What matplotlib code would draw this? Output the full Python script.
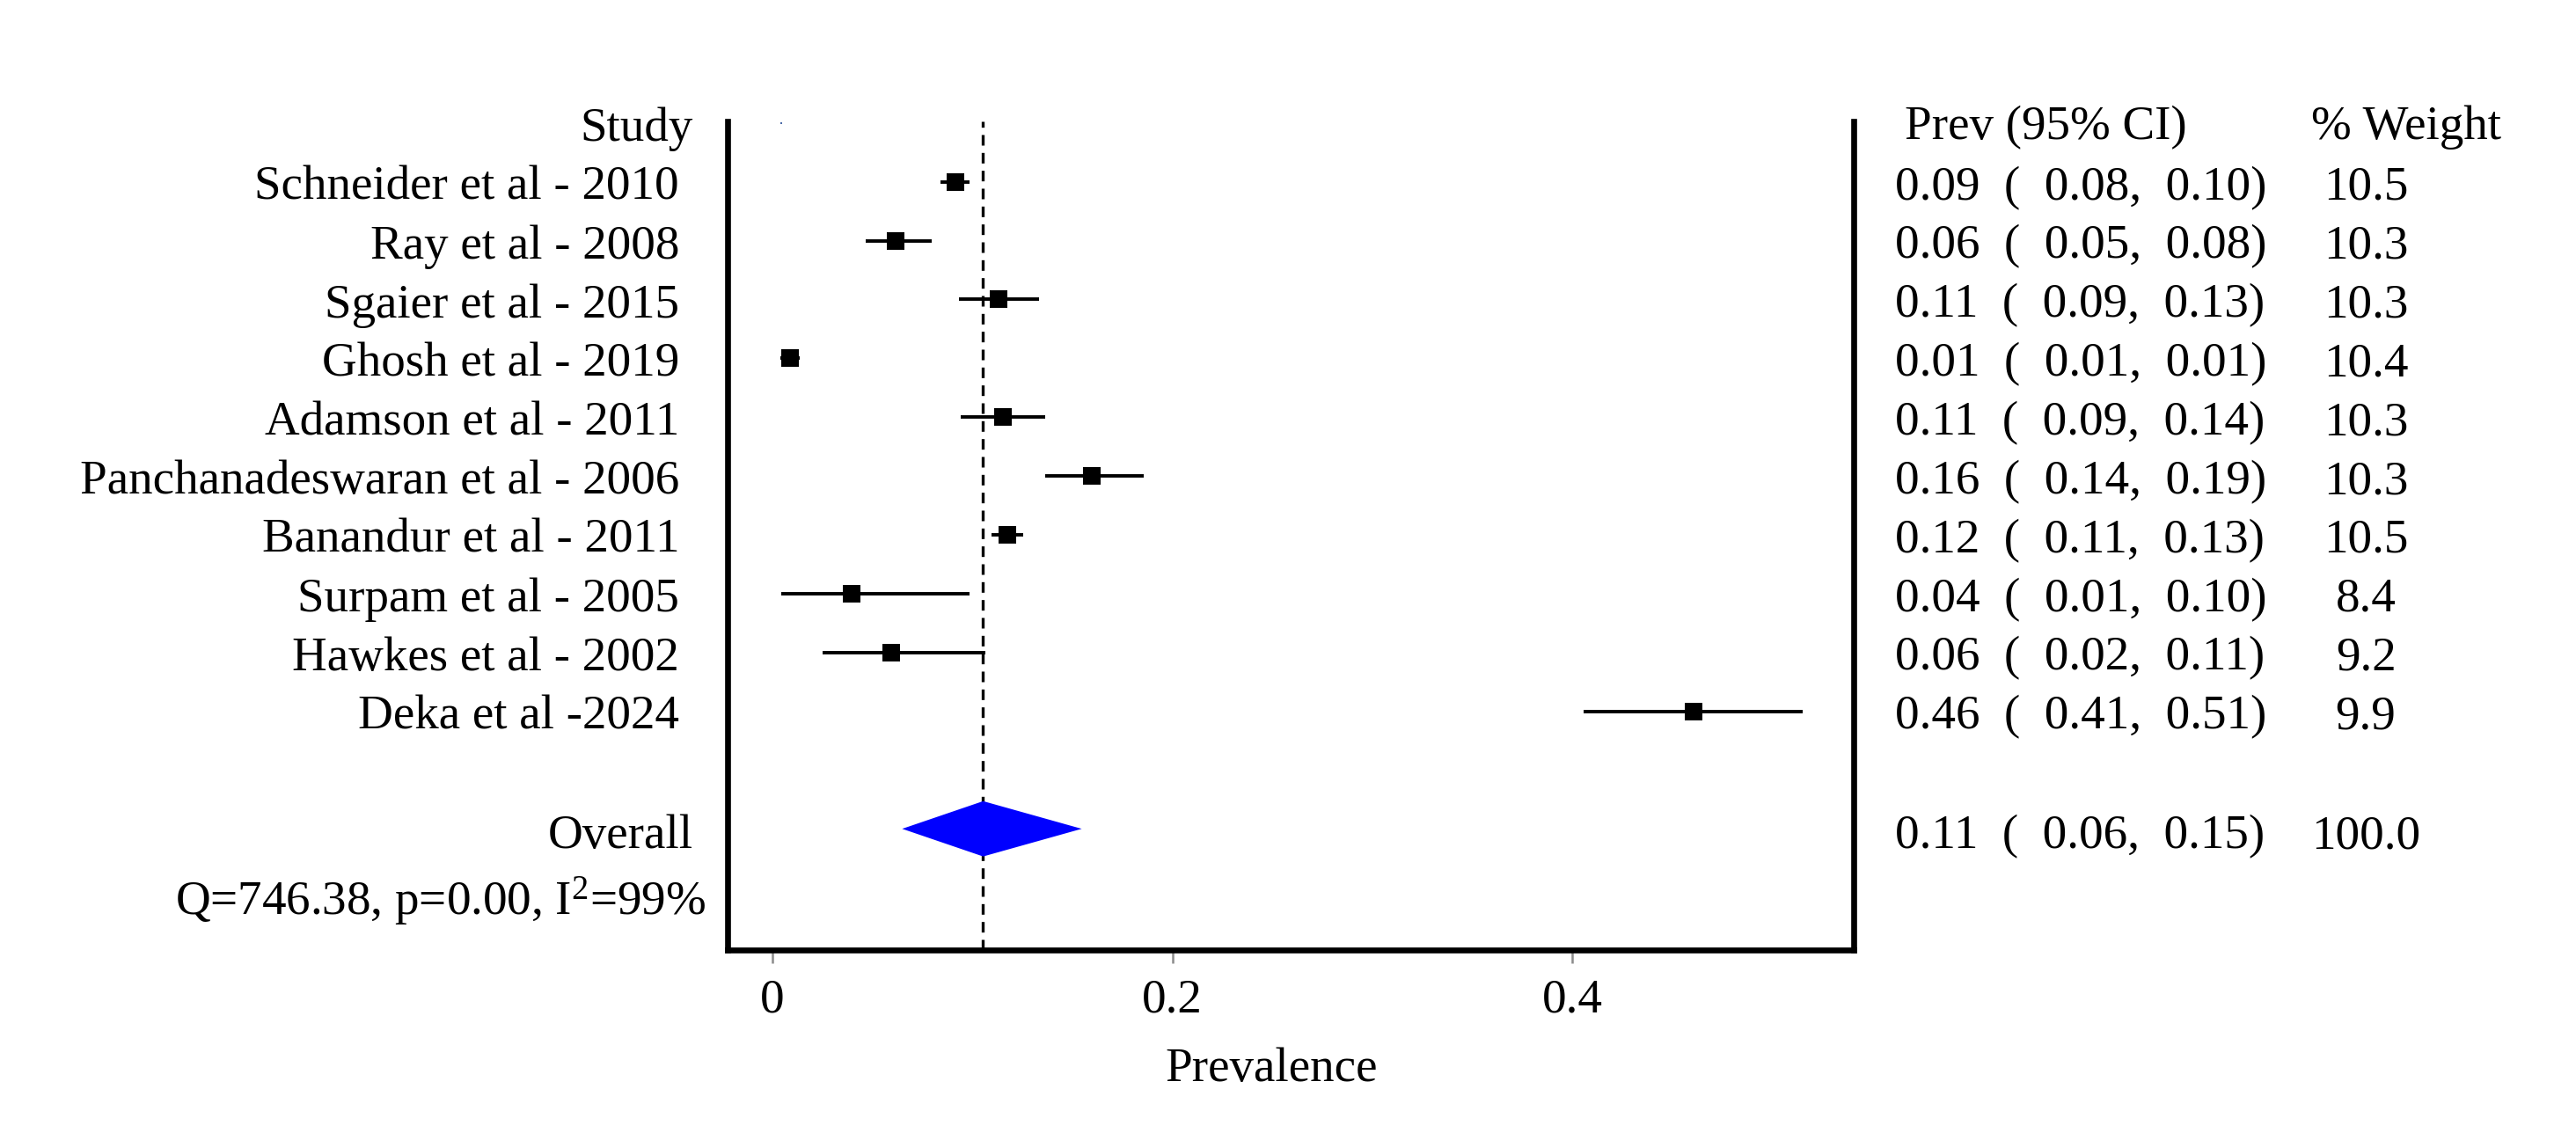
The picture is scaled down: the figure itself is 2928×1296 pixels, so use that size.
import matplotlib
matplotlib.use('Agg')
import matplotlib.pyplot as plt
from matplotlib.patches import Polygon
from matplotlib.transforms import blended_transform_factory

# study rows (top to bottom)
studies = ['Schneider et al - 2010', 'Ray et al - 2008', 'Sgaier et al - 2015',
           'Ghosh et al - 2019', 'Adamson et al - 2011', 'Panchanadeswaran et al - 2006',
           'Banandur et al - 2011', 'Surpam et al - 2005', 'Hawkes et al - 2002',
           'Deka et al -2024']
# plotted estimates and CI ends
est = [0.0913, 0.0617, 0.1129, 0.0088, 0.1151, 0.1595, 0.1174, 0.0397, 0.0595, 0.4607]
lo = [0.0841, 0.0467, 0.0932, 0.0040, 0.0940, 0.1362, 0.1094, 0.0042, 0.0250, 0.4056]
hi = [0.0985, 0.0797, 0.1334, 0.0135, 0.1362, 0.1856, 0.1255, 0.0985, 0.1064, 0.5150]
# printed table
prev_txt = [0.09, 0.06, 0.11, 0.01, 0.11, 0.16, 0.12, 0.04, 0.06, 0.46]
lo_txt = [0.08, 0.05, 0.09, 0.01, 0.09, 0.14, 0.11, 0.01, 0.02, 0.41]
hi_txt = [0.10, 0.08, 0.13, 0.01, 0.14, 0.19, 0.13, 0.10, 0.11, 0.51]
weights = [10.5, 10.3, 10.3, 10.4, 10.3, 10.3, 10.5, 8.4, 9.2, 9.9]
# overall (random effects)
overall_est, overall_lo, overall_hi = 0.1053, 0.0648, 0.1546
overall_txt = (0.11, 0.06, 0.15)
overall_weight = 100.0
stats_txt = r'Q=746.38, p=0.00, I$^{2}$=99%'
xticks = [0, 0.2, 0.4]
xticklabels = ['0', '0.2', '0.4']

fs = 19.8
plt.rcParams['font.family'] = ['Liberation Serif', 'DejaVu Serif']
plt.rcParams['mathtext.fontset'] = 'custom'
plt.rcParams['mathtext.rm'] = 'Liberation Serif'
plt.rcParams['mathtext.it'] = 'Liberation Serif:italic'
plt.rcParams['font.size'] = fs

fig = plt.figure(figsize=(14.64, 6.48), dpi=200)
ax = fig.add_axes([0.2826, 0.1667, 0.4369, 0.7266])

rows = list(range(1, len(studies) + 1))
overall_row = 12

# reference line at the pooled estimate
ax.axvline(overall_est, color='black', lw=1.2, dashes=(3.6, 2.5), zorder=1)

for r, e, l, h in zip(rows, est, lo, hi):
    ax.plot([l, h], [r, r], color='black', lw=1.4, solid_capstyle='butt', zorder=2)
    ax.plot(e, r, marker='s', ms=6.95, mew=0, color='black', zorder=3)

diamond = Polygon([(overall_lo, overall_row), (overall_est, overall_row - 0.47),
                   (overall_hi, overall_row), (overall_est, overall_row + 0.47)],
                  closed=True, facecolor='#0000ff', edgecolor='none', zorder=4)
ax.add_patch(diamond)

# tiny stray dot at the top
ax.plot(0.0045, 0.0, marker='s', ms=0.8, mew=0, color='#4a6aa8', clip_on=False)

ax.set_xlim(-0.0223, 0.5405)
ax.set_ylim(14.06, -0.024)
ax.set_yticks([])
ax.set_xticks(xticks)
ax.set_xticklabels(xticklabels)
ax.tick_params(axis='x', direction='out', length=5.4, width=0.9, color='#8c8c8c',
               labelsize=fs, pad=6)
ax.spines['top'].set_visible(False)
for s in ['left', 'right', 'bottom']:
    ax.spines[s].set_linewidth(2.4)

tr = blended_transform_factory(fig.transFigure, ax.transData)
base = 0.30

# left column
ax.text(0.2691, 0 + base, 'Study', transform=tr, ha='right', va='baseline')
for r, name in zip(rows, studies):
    ax.text(0.2637, r + base, name, transform=tr, ha='right', va='baseline')
ax.text(0.2691, overall_row + 0.32, 'Overall', transform=tr, ha='right', va='baseline')
ax.text(0.2739, 13.47, stats_txt, transform=tr, ha='right', va='baseline')

# right columns
ax.text(0.7393, 0 + 0.27, 'Prev (95% CI)', transform=tr, ha='left', va='baseline')
ax.text(0.8971, 0 + 0.27, '% Weight', transform=tr, ha='left', va='baseline')
for r, p, l, h, w in zip(rows, prev_txt, lo_txt, hi_txt, weights):
    ax.text(0.7355, r + base, f'{p:.2f}  (  {l:.2f},  {h:.2f})', transform=tr,
            ha='left', va='baseline')
    ax.text(0.9184, r + base, f'{w:.1f}', transform=tr, ha='center', va='baseline')
ax.text(0.7355, overall_row + 0.33,
        f'{overall_txt[0]:.2f}  (  {overall_txt[1]:.2f},  {overall_txt[2]:.2f})',
        transform=tr, ha='left', va='baseline')
ax.text(0.9184, overall_row + 0.33, f'{overall_weight:.1f}', transform=tr,
        ha='center', va='baseline')

fig.text(0.4934, 0.0517, 'Prevalence', ha='center', va='baseline', fontsize=fs)

plt.savefig('out.png', dpi=200)
